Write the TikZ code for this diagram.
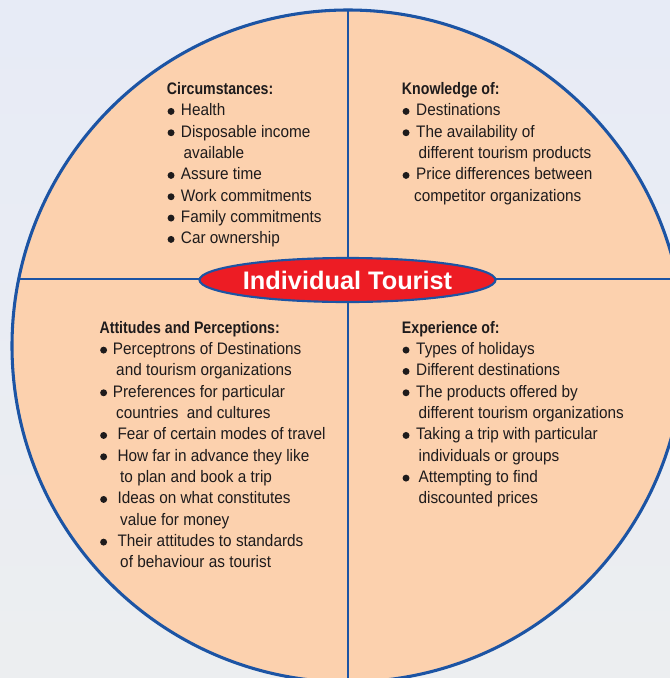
\documentclass[tikz,border=0pt]{standalone}
\usepackage{fontspec}
\setmainfont{Liberation Sans}[FakeStretch=0.92]
\newfontfamily\headfont{Liberation Sans}[FakeStretch=0.85]
\newfontfamily\titlefont{Liberation Sans}
\usetikzlibrary{shapes.geometric}

\definecolor{peach}{RGB}{252,209,174}
\definecolor{rimblue}{RGB}{28,84,164}
\definecolor{hubred}{RGB}{237,28,36}
\definecolor{txtcol}{RGB}{30,27,28}
\definecolor{bgtop}{RGB}{231,235,246}
\definecolor{bgbot}{RGB}{236,238,240}

\newcommand{\bodyfont}{\fontsize{12.5pt}{16pt}\selectfont}
\newcommand{\bul}[1][10.5pt]{\makebox[#1][l]{\tikz[baseline=0pt]{\path (0,0); \fill[txtcol] (3.05pt,3.2pt) circle (2.6pt);}}}
\newcommand{\ind}[1][12.5pt]{\hspace*{#1}}
\newcommand{\head}[1]{{\headfont\bfseries #1}}

\tikzset{
  rim/.style={draw=rimblue, line width=2.3pt},
  quad/.style={anchor=north west, inner sep=0pt, align=left, text=txtcol, font=\bodyfont},
  hub/.style={ellipse, draw=rimblue, line width=1.6pt, fill=hubred, text=white, inner sep=0pt,
    minimum width=222pt, minimum height=33pt, font=\titlefont\bfseries\fontsize{19pt}{22pt}\selectfont}
}

\begin{document}
\begin{tikzpicture}[x=0.75pt,y=-0.75pt]
% page
\fill[top color=bgtop, bottom color=bgbot] (0,0) rectangle (670,678);
\useasboundingbox (0,0) rectangle (670,678);
\clip (0,0) rectangle (670,678);
% wheel
\coordinate (O) at (348,346);
\fill[peach] (O) circle (336);
\coordinate (N) at (348,10);
\coordinate (S) at (348,682);
\coordinate (W) at (18.7,279);
\coordinate (E) at (677.3,279);
\draw[rim, line width=2pt] (N) -- (S);
\draw[rim, line width=2pt] (W) -- (E);
\draw[rim] (O) circle (336);
% hub
\node[hub] (tourist) at (347.5,280) {Individual Tourist};
% quadrants
\node[quad] (circ) at (166.7,82) {\head{Circumstances:}\\
  \bul Health\\
  \bul Disposable income\\
  \ind available\\
  \bul Assure time\\
  \bul Work commitments\\
  \bul Family commitments\\
  \bul Car ownership};
\node[quad] (know) at (401.7,82) {\head{Knowledge of:}\\
  \bul[10.7pt]Destinations\\
  \bul[10.7pt]The availability of\\
  \ind different tourism products\\
  \bul[10.7pt]Price differences between\\
  \ind[9.2pt]competitor organizations};
\node[quad] (att) at (99.3,320.7) {\head{Attitudes and Perceptions:}\\
  \bul[10pt]Perceptrons of Destinations\\
  \ind and tourism organizations\\
  \bul[10pt]Preferences for particular\\
  \ind countries\ \ and cultures\\
  \bul[13.5pt]Fear of certain modes of travel\\
  \bul[13.5pt]How far in advance they like\\
  \ind[15.5pt]to plan and book a trip\\
  \bul[13.5pt]Ideas on what constitutes\\
  \ind[15.5pt]value for money\\
  \bul[13.5pt]Their attitudes to standards\\
  \ind[15.5pt]of behaviour as tourist};
\node[quad] (exp) at (401.7,320.7) {\head{Experience of:}\\
  \bul[10.7pt]Types of holidays\\
  \bul[10.7pt]Different destinations\\
  \bul[10.7pt]The products offered by\\
  \ind different tourism organizations\\
  \bul[10.7pt]Taking a trip with particular\\
  \ind individuals or groups\\
  \bul[12.5pt]Attempting to find\\
  \ind discounted prices};
\end{tikzpicture}
\end{document}
